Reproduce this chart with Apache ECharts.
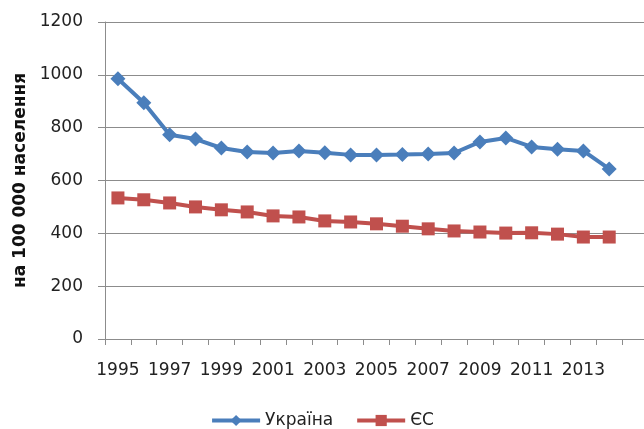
<!DOCTYPE html>
<html>
<head>
<meta charset="utf-8">
<script src="https://cdn.jsdelivr.net/npm/echarts@6/dist/echarts.min.js"></script>
<style>
  html, body { margin: 0; padding: 0; background: #fff; }
  #chart { width: 644px; height: 429px; }
</style>
</head>
<body>
<div id="chart"></div>
<script>
// дані з графіка (на 100 000 населення)
var years = ['1995', '1996', '1997', '1998', '1999', '2000', '2001', '2002', '2003', '2004',
             '2005', '2006', '2007', '2008', '2009', '2010', '2011', '2012', '2013', '2014']
var ukraine = [985, 894, 773, 757, 723, 708, 704, 712, 705, 697, 697, 698, 700, 704, 746, 761, 727, 718, 712, 644]
var eu = [534, 527, 515, 500, 489, 481, 466, 462, 447, 443, 436, 427, 417, 409, 405, 401, 402, 397, 386, 386]
var yTicks = [0, 200, 400, 600, 800, 1000, 1200]

var gray = '#8c8c8c'
var font = 'DejaVu Sans'

var chart = echarts.init(document.getElementById('chart'))
chart.setOption({
  animation: false,
  grid: { left: 105, right: -4, top: 22, bottom: 90, outerBoundsMode: 'none' },
  legend: {
    top: 407,
    left: 'center',
    itemWidth: 48,
    itemHeight: 14,
    itemGap: 22,
    lineStyle: { width: 4 },
    textStyle: { fontFamily: font, fontSize: 17, color: '#222' },
    data: ['Україна', 'ЄС']
  },
  xAxis: {
    type: 'category',
    boundaryGap: true,
    data: years.concat(['']), // у вихідному графіку вісь має ще одну порожню позицію праворуч
    axisLine: { lineStyle: { color: gray, width: 1 } },
    axisTick: { show: true, length: 6, interval: 0, lineStyle: { color: gray } },
    axisLabel: {
      interval: function (i) { return i % 2 === 0 && i < years.length },
      margin: 23,
      fontFamily: font,
      fontSize: 17,
      color: '#222'
    }
  },
  yAxis: {
    type: 'value',
    min: yTicks[0],
    max: yTicks[yTicks.length - 1],
    interval: yTicks[1] - yTicks[0],
    name: 'на 100 000 населення',
    nameLocation: 'middle',
    nameGap: 76,
    nameTextStyle: { fontFamily: font, fontSize: 17, fontWeight: 'bold', color: '#111' },
    axisLine: { show: true, lineStyle: { color: gray } },
    axisTick: { show: true, length: 7, lineStyle: { color: gray } },
    splitLine: { lineStyle: { color: gray, width: 1 } },
    axisLabel: {
      margin: 22,
      fontFamily: font,
      fontSize: 17,
      color: '#222',
      formatter: function (v) { return String(v) }
    }
  },
  series: [
    {
      name: 'Україна',
      type: 'line',
      data: ukraine,
      symbol: 'diamond',
      symbolSize: 15,
      color: '#4a7ebb',
      lineStyle: { width: 4 }
    },
    {
      name: 'ЄС',
      type: 'line',
      data: eu,
      symbol: 'rect',
      symbolSize: 13,
      color: '#c0504d',
      lineStyle: { width: 4 }
    }
  ]
})
</script>
</body>
</html>
